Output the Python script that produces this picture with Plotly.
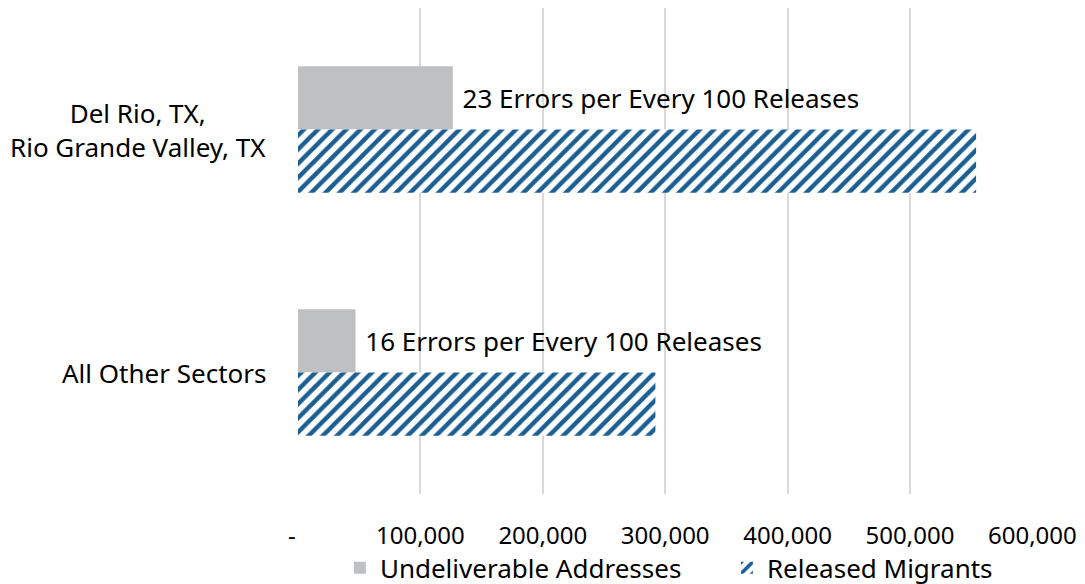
import plotly.graph_objects as go

categories = ["Del Rio, TX,<br>Rio Grande Valley, TX", "All Other Sectors"]
undeliverable = [126500, 47000]
released = [554000, 292000]
error_labels = [" 23 Errors per Every 100 Releases", " 16 Errors per Every 100 Releases"]
series_names = ["Undeliverable Addresses", "Released Migrants"]
tick_vals = [0, 100000, 200000, 300000, 400000, 500000, 600000]
tick_text = ["-\u00a0\u00a0", "100,000", "200,000", "300,000", "400,000", "500,000", "600,000"]

FONT = "Noto Sans"
NBSP = "\u00a0"

fig = go.Figure()
fig.add_trace(go.Bar(
    y=categories, x=undeliverable, orientation="h",
    name=series_names[0] + NBSP * 6,
    marker=dict(color="#bfc0c2", line=dict(width=0)),
    text=error_labels, textposition="outside", cliponaxis=False, constraintext="none",
    textfont=dict(size=26, color="#000000", family=FONT),
))
fig.add_trace(go.Bar(
    y=categories, x=released, orientation="h", name=series_names[1],
    marker=dict(color="white", line=dict(width=0),
                pattern=dict(shape="/", fgcolor="#1b5e91", bgcolor="white",
                             fgopacity=1, size=10, solidity=0.45)),
))

# category labels drawn as centred annotations (multi-line, centre aligned)
for cat in categories:
    fig.add_annotation(text=cat, xref="paper", x=-0.041, xanchor="right",
                       yref="y", y=cat, yanchor="middle", align="center",
                       showarrow=False, font=dict(size=26, family=FONT, color="#000000"))

# page body has an 8px default margin; figure offset accounted for in margins
fig.update_layout(
    width=1077, height=592,
    barmode="group", bargap=0.48, bargroupgap=0,
    plot_bgcolor="white", paper_bgcolor="white",
    margin=dict(l=290, r=52, t=0, b=106),
    font=dict(family=FONT, size=24, color="#000000"),
    xaxis=dict(range=[0, 600500], tickvals=tick_vals, ticktext=tick_text,
               showgrid=True, gridcolor="#d9d9d9", gridwidth=2, zeroline=False,
               showline=False, ticks="", ticklabelstandoff=25, automargin=False,
               tickfont=dict(size=24, family=FONT)),
    yaxis=dict(autorange="reversed", showgrid=False, ticks="", showline=False,
               showticklabels=False, automargin=False),
    legend=dict(orientation="h", x=0.057, xanchor="left", y=-0.152, yanchor="middle",
                bgcolor="rgba(0,0,0,0)", font=dict(size=26, family=FONT),
                traceorder="normal"),
    showlegend=True,
)

fig.write_html("out.html")
